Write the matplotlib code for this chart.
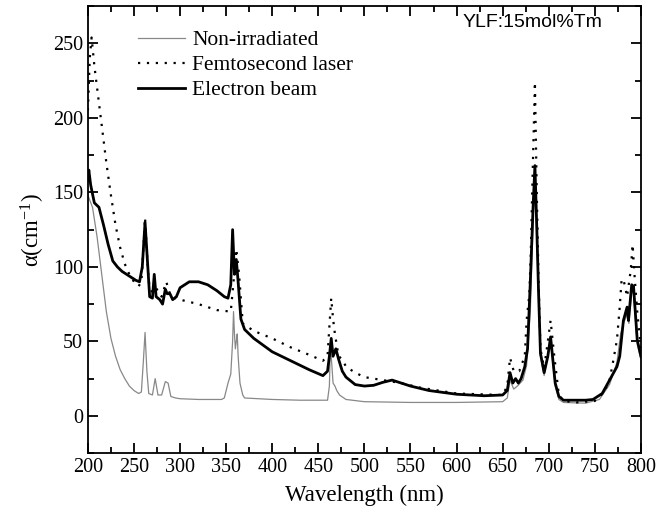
import numpy as np
import matplotlib.pyplot as plt
from matplotlib.ticker import MultipleLocator

plt.rcParams['mathtext.default'] = 'regular'

# Non-irradiated
wl_non = [200, 205, 210, 215, 220, 225, 230, 235, 240, 245, 250, 255, 258, 260, 262, 264, 266,
          270, 273, 276, 280, 284, 287, 290, 295, 300, 320, 345, 348, 352, 355, 357, 358, 359,
          360, 361, 362, 363, 365, 368, 370, 400, 430, 460, 462, 463, 464, 466, 468, 470, 473,
          480, 500, 550, 600, 650, 655, 658, 662, 666, 672, 676, 680, 683, 685, 687, 689, 691,
          695, 702, 707, 711, 716, 740, 755, 766, 774, 778, 781, 785, 787, 790, 792, 796, 800]
a_non = [148, 140, 120, 95, 70, 52, 40, 31, 25, 20, 17, 15, 16, 35, 56, 30, 15,
         14, 25, 14, 14, 23, 22, 13, 12, 11.5, 11, 11, 12, 22, 28, 50, 70, 55,
         45, 50, 55, 40, 22, 14, 12, 11, 10.5, 10.5, 20, 45, 40, 22, 20, 17, 14,
         11, 9.5, 9, 9, 9.5, 12, 24, 18, 20, 24, 34, 70, 130, 165, 120, 78, 40,
         27, 50, 20, 11, 9, 8.5, 11, 21, 36, 55, 62, 68, 62, 84, 82, 48, 38]

# Femtosecond laser
wl_fs = [200, 202, 204, 207, 210, 215, 220, 225, 230, 235, 240, 245, 250, 255, 258, 260, 262,
         264, 266, 270, 275, 280, 285, 290, 300, 320, 340, 355, 358, 361, 364, 368, 380, 400,
         420, 440, 455, 460, 462, 464, 466, 468, 472, 476, 480, 490, 500, 520, 540, 560, 600,
         650, 655, 658, 662, 668, 674, 676, 679, 680.5, 682, 685, 687, 689, 691, 695, 699, 702,
         706, 711, 716, 730, 750, 760, 766, 770, 774, 777, 779, 781, 785, 789, 791, 793, 796, 800]
a_fs = [205, 240, 254, 235, 220, 195, 170, 148, 128, 113, 102, 95, 90, 87, 90, 110, 133,
        110, 90, 82, 85, 80, 90, 80, 78, 75, 71, 70, 90, 112, 95, 62, 57, 52,
        46, 41, 37, 40, 60, 79, 65, 55, 40, 38, 33, 29, 26, 24, 22, 19, 15,
        14, 20, 39, 30, 30, 40, 64, 82, 109, 149, 224, 150, 90, 45, 32, 50, 64,
        40, 14, 10, 9, 10, 16, 24, 37, 51, 73, 91, 92, 80, 98, 115, 95, 70, 45]

# Electron beam
wl_eb = [200, 201, 203, 207, 212, 217, 222, 227, 232, 237, 242, 247, 252, 256, 259, 262, 265,
         267, 270, 272, 274, 278, 281, 284, 286, 289, 292, 296, 300, 305, 310, 320, 330, 340,
         348, 352, 355, 357, 359, 361, 363, 366, 370, 380, 400, 420, 440, 455, 460, 462, 464,
         466, 469, 472, 476, 480, 490, 500, 510, 520, 530, 540, 550, 570, 600, 630, 650, 655,
         658, 661, 664, 667, 670, 674, 677, 680, 683, 685, 687, 689, 691, 695, 699, 702, 707,
         711, 716, 740, 748, 758, 766, 774, 777, 781, 785, 786.5, 790, 792, 796, 800]
a_eb = [158, 165, 155, 143, 140, 128, 115, 104, 100, 97, 95, 93, 91, 90, 100, 130, 100,
        80, 79, 95, 80, 78, 75, 85, 82, 82, 78, 80, 86, 88, 90, 90, 88, 84,
        80, 79, 88, 125, 95, 105, 90, 65, 58, 52, 43, 37, 31, 27, 30, 40, 52,
        40, 45, 38, 30, 26, 21, 20, 20.5, 22.5, 24, 22, 20, 17, 14.5, 13.5, 14, 17,
        29, 22, 25, 22, 25, 33, 45, 90, 140, 168, 127, 82, 42, 29, 40, 53, 22,
        13, 10.5, 10.5, 11, 15, 24, 33, 40, 64, 73, 64, 88, 87, 51, 40]

fig = plt.figure(figsize=(6.56, 5.19), dpi=100)
ax = fig.add_axes([0.134, 0.127, 0.843, 0.861])

ax.plot(wl_non, a_non, color='#888888', lw=0.9, label='Non-irradiated')
ax.plot(wl_fs, a_fs, color='black', lw=1.6, linestyle=(0, (1, 3)), label='Femtosecond laser')
ax.plot(wl_eb, a_eb, color='black', lw=2.0, label='Electron beam')

ax.set_xlim(200, 800)
ax.set_ylim(-25, 275)
ax.xaxis.set_major_locator(MultipleLocator(50))
ax.xaxis.set_minor_locator(MultipleLocator(25))
ax.yaxis.set_major_locator(MultipleLocator(50))
ax.yaxis.set_minor_locator(MultipleLocator(25))
ax.tick_params(which='both', direction='in', top=True, right=True, width=1.3)
ax.tick_params(which='major', length=7, labelsize=14.5)
ax.tick_params(which='minor', length=4)
ax.tick_params(labeltop=False, labelright=False)
for lab in ax.get_xticklabels() + ax.get_yticklabels():
    lab.set_family('Liberation Serif')
for s in ax.spines.values():
    s.set_linewidth(1.3)

ax.set_xlabel('Wavelength (nm)', family='Liberation Serif', size=16.5, labelpad=6)
ax.set_ylabel('α(cm$^{-1}$)', family='Liberation Serif', size=16.5)

leg = ax.legend(loc='upper left', bbox_to_anchor=(0.075, 0.966), frameon=False,
                prop={'family': 'Liberation Serif', 'size': 15.5},
                handlelength=2.2, handletextpad=0.33, labelspacing=0.23,
                borderaxespad=0)

ax.text(0.93, 0.982, 'YLF:15mol%Tm', transform=ax.transAxes, ha='right', va='top',
        family='Liberation Sans', size=14)

fig.savefig('out.png', dpi=100)
